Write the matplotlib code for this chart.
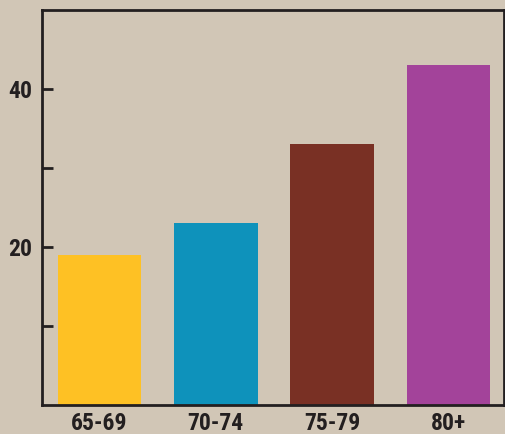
import matplotlib
matplotlib.use("Agg")
import matplotlib.pyplot as plt
from matplotlib import font_manager

age_groups = ["65-69", "70-74", "75-79", "80+"]
values = [19, 23, 33, 43]
bar_colors = ["#FEC124", "#0E92BB", "#793024", "#A3439A"]
y_major = [20, 40]
y_minor = [10, 30]

# condensed bold face, first one that is installed
names = {f.name for f in font_manager.fontManager.ttflist}
candidates = ["Roboto Condensed", "Archivo Narrow", "PT Sans Narrow",
              "Barlow Condensed", "Oswald"]
family = next((c for c in candidates if c in names), "DejaVu Sans")

bg = "#D1C6B6"
ink = "#231F20"

fig = plt.figure(figsize=(5.06, 4.34), dpi=100)
fig.patch.set_facecolor(bg)
ax = fig.add_axes([42 / 506, 1 - 405 / 434, (504 - 42) / 506, (405 - 10) / 434])
ax.set_facecolor(bg)

ax.bar(range(len(values)), values, width=0.72, color=bar_colors, zorder=2)

ax.set_xlim(-0.494, 3.478)
ax.set_ylim(0, 50)
ax.set_xticks(range(len(age_groups)))
ax.set_xticklabels(age_groups)
ax.set_yticks(y_major)
ax.set_yticks(y_minor, minor=True)

for s in ax.spines.values():
    s.set_linewidth(2.0)
    s.set_color(ink)

ax.tick_params(axis="x", length=0, pad=5)
ax.tick_params(axis="y", which="both", direction="in", length=8, width=2.0,
               color=ink, pad=7)
for lab in ax.get_xticklabels() + ax.get_yticklabels():
    lab.set_fontfamily(family)
    lab.set_fontweight("bold")
    lab.set_fontsize(17)
    lab.set_color(ink)

fig.savefig("out.png", dpi=100, facecolor=bg)
